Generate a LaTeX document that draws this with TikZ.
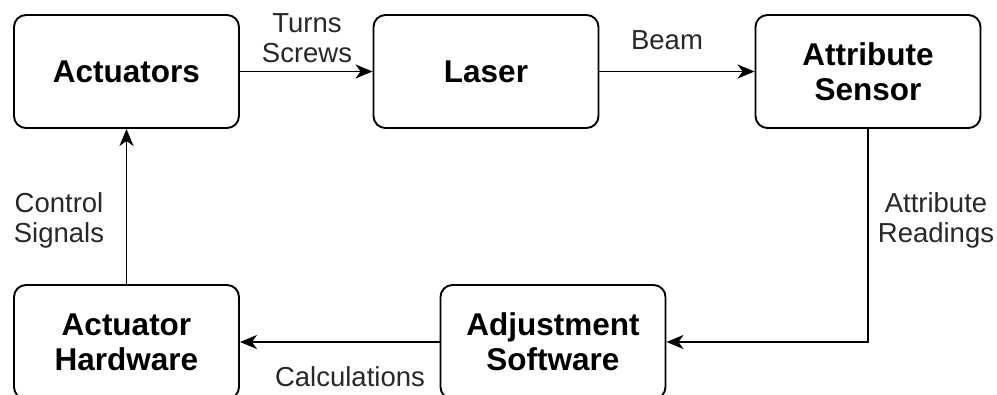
\documentclass[tikz,border=0pt]{standalone}
\usepackage{fontspec}
\setmainfont{Liberation Sans}
\usetikzlibrary{arrows.meta}
\definecolor{labelgray}{RGB}{40,40,40}
\tikzset{
  block/.style={draw, line width=1.9pt, rounded corners=12pt, fill=white,
    minimum width=225pt, minimum height=113pt, align=center,
    font=\fontsize{31.5}{35}\selectfont\bfseries, text=black},
  flow/.style={line width=1.9pt, -{Stealth[length=17pt,width=14pt,inset=5pt]}},
  lbl/.style={align=center, font=\fontsize{27.5}{30}\selectfont, text=labelgray, inner sep=0pt}
}
\begin{document}
\begin{tikzpicture}[x=1pt,y=-1pt]
  \useasboundingbox (0,0) rectangle (997,394);
  \clip (0,0) rectangle (997,394);
  \fill[white] (0,0) rectangle (997,394);

  % process blocks
  \node[block] (act)    at (126.5,71.5) {Actuators};
  \node[block] (laser)  at (486,71.5)   {Laser};
  \node[block] (sensor) at (868,71.5)   {Attribute\\Sensor};
  \node[block, minimum height=114pt] (adjust) at (553,342)   {Adjustment\\Software};
  \node[block, minimum height=114pt] (hw)     at (126.5,342) {Actuator\\Hardware};

  % connectors
  \draw[flow] (act.east) -- (laser.west);
  \draw[flow] (laser.east) -- (sensor.west);
  \draw[flow] (sensor.south) |- (adjust.east);
  \draw[flow] (adjust.west) -- (hw.east);
  \draw[flow] (hw.north) -- (act.south);

  % connector labels
  \node[lbl] (lturns) at (307,38)  {Turns\\Screws};
  \node[lbl] (lbeam)  at (667,40)  {Beam};
  \node[lbl] (lctrl)  at (59,220)  {Control\\Signals};
  \node[lbl] (lread)  at (936,220) {Attribute\\Readings};
  \node[lbl] (lcalc)  at (350,377) {Calculations};
\end{tikzpicture}
\end{document}
